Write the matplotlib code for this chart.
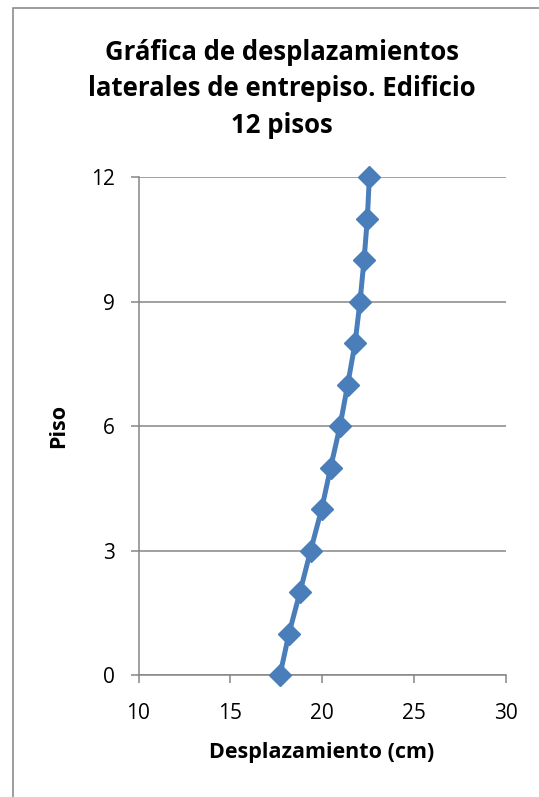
import matplotlib.pyplot as plt
from matplotlib.patches import Rectangle

# lateral displacement per floor (cm)
pisos = [0, 1, 2, 3, 4, 5, 6, 7, 8, 9, 10, 11, 12]
desplazamiento = [17.71, 18.20, 18.80, 19.38, 19.98, 20.47, 20.98, 21.40, 21.80, 22.07, 22.29, 22.47, 22.58]
xticks = [10, 15, 20, 25, 30]
yticks = [0, 3, 6, 9, 12]

plt.rcParams['font.family'] = ['Open Sans', 'DejaVu Sans']

W, H = 539, 797
fig = plt.figure(figsize=(W / 100, H / 100), dpi=100)
fig.patch.set_facecolor('white')

# chart border
fig.patches.append(Rectangle((13 / W, -0.1), 1.2, 1 - 8 / H + 0.1, transform=fig.transFigure,
                             fill=False, edgecolor='#8c8c8c', linewidth=1.2))

ax = fig.add_axes([138.5 / W, 1 - 675 / H, 367 / W, (675 - 177.3) / H])
ax.plot(desplazamiento, pisos, color='#4a7ebb', linewidth=3.6, marker='D',
        markersize=11.5, solid_capstyle='round', zorder=3, clip_on=False)

ax.set_xlim(10, 30)
ax.set_ylim(0, 12)
ax.set_xticks(xticks)
ax.set_yticks(yticks)
ax.grid(axis='y', color='#868686', linewidth=1.1)
ax.set_axisbelow(True)
for s in ['top', 'right']:
    ax.spines[s].set_visible(False)
for s in ['left', 'bottom']:
    ax.spines[s].set_color('#868686')
    ax.spines[s].set_linewidth(1.1)
ax.tick_params(axis='both', direction='out', length=6, width=1.1, color='#868686',
               labelsize=15)
ax.tick_params(axis='y', pad=11)
ax.tick_params(axis='x', pad=14)

ax.set_xlabel('Desplazamiento (cm)', fontsize=15.5, fontweight='bold', labelpad=13)
ax.set_ylabel('Piso', fontsize=15.5, fontweight='bold', labelpad=16)

fig.text(282 / W, 1 - 89 / H,
         'Gráfica de desplazamientos\nlaterales de entrepiso. Edificio\n12 pisos',
         ha='center', va='center', fontsize=18.5, fontweight='bold', linespacing=1.45)

fig.savefig('out.png', dpi=100)
